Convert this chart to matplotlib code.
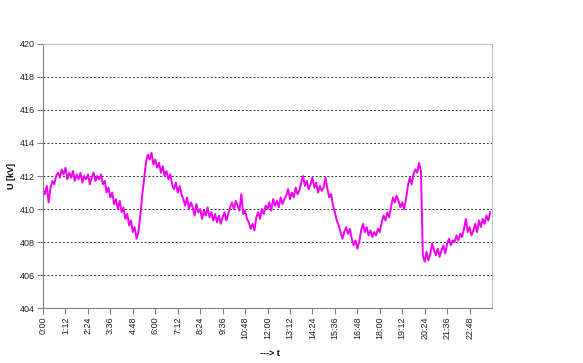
'''Voltage over one day, redrawn with matplotlib'''
import numpy as np
from matplotlib import pyplot as plt

# voltage in kV, one reading every 6 minutes, one row per hour
voltage = [
    411.2, 410.9, 411.4, 410.4, 411.3, 411.7, 411.5, 412.0, 412.2, 411.9,
    412.4, 412.1, 412.5, 411.8, 412.2, 411.9, 412.3, 411.7, 412.1, 411.8,
    412.2, 411.6, 412.0, 411.8, 412.1, 411.5, 411.9, 412.2, 411.7, 412.0,
    411.8, 412.1, 411.5, 411.7, 411.0, 411.3, 410.7, 411.0, 410.3, 410.6,
    410.0, 410.5, 409.8, 410.1, 409.4, 409.7, 409.0, 409.3, 408.6, 408.9,
    408.2, 408.6, 409.6, 410.8, 411.8, 412.8, 413.3, 413.0, 413.4, 412.7,
    413.0, 412.5, 412.8, 412.2, 412.6, 412.0, 412.3, 411.8, 412.1, 411.5,
    411.2, 411.6, 411.0, 411.4, 410.9, 410.6, 410.2, 410.7, 410.0, 410.4,
    410.1, 409.6, 410.3, 409.8, 410.0, 409.4, 409.9, 409.6, 410.1, 409.5,
    409.8, 409.3, 409.7, 409.2, 409.6, 409.1, 409.5, 409.8, 409.3, 409.7,
    410.1, 410.4, 410.0, 410.5, 410.2, 409.9, 410.9, 409.7, 409.9, 409.4,
    409.2, 408.8, 409.1, 408.7, 409.5, 409.8, 409.4, 410.0, 409.7, 410.2,
    410.0, 410.4, 409.9, 410.6, 410.2, 410.5, 410.1, 410.7, 410.3, 410.6,
    410.8, 411.2, 410.6, 411.0, 410.7, 411.3, 410.9, 411.1, 411.6, 412.0,
    411.4, 411.7, 411.2, 411.5, 411.9, 411.3, 411.6, 411.0, 411.4, 411.1,
    411.3, 411.9, 411.2, 410.7, 410.9, 410.2, 409.8, 409.3, 409.0, 408.6,
    408.2, 408.6, 408.9, 408.5, 408.8, 408.2, 407.8, 408.1, 407.6, 408.0,
    408.7, 409.1, 408.6, 408.9, 408.4, 408.7, 408.3, 408.6, 408.4, 408.8,
    408.6, 409.2, 409.6, 409.3, 409.8, 409.5, 410.1, 410.7, 410.4, 410.8,
    410.5, 410.1, 410.4, 410.0, 410.6, 411.4, 411.9, 411.5, 412.1, 412.4,
    412.2, 412.8, 412.3, 407.2, 406.8, 407.4, 406.9, 407.3, 407.9, 407.5,
    407.2, 407.6, 407.1, 407.5, 407.8, 407.3, 407.9, 408.2, 407.8, 408.1,
    408.0, 408.4, 408.1, 408.5, 408.3, 408.8, 409.4, 408.6, 408.9, 408.4,
    408.7, 409.1, 408.6, 409.3, 408.9, 409.4, 409.1, 409.6, 409.3, 409.8,
]
time_step = 6  # minutes between readings
tick_labels = ['0:00', '1:12', '2:24', '3:36', '4:48', '6:00', '7:12', '8:24',
               '9:36', '10:48', '12:00', '13:12', '14:24', '15:36', '16:48',
               '18:00', '19:12', '20:24', '21:36', '22:48']
y_ticks = [404, 406, 408, 410, 412, 414, 416, 418, 420]

plt.rcParams['font.family'] = ['Liberation Sans', 'DejaVu Sans']

minutes = np.arange(len(voltage)) * time_step

fig = plt.figure(figsize=(5.83, 3.63), dpi=100)
ax = fig.add_axes([0.0738, 0.1515, 0.7702, 0.7273])

ax.plot(minutes, voltage, color='#f000f0', linewidth=1.4)

ax.set_xlim(0, 1440)
ax.set_ylim(404, 420)
ax.set_xticks(np.arange(len(tick_labels)) * 72)
ax.set_xticklabels(tick_labels, rotation=90, fontsize=6.5, color='#222222')
ax.set_yticks(y_ticks)
ax.set_yticklabels([str(v) for v in y_ticks], fontsize=6.5, color='#222222')

for val in y_ticks[1:-1]:
    ax.axhline(val, color='#333333', linestyle=(0, (2, 2)), linewidth=0.7,
               zorder=0)

ax.spines['left'].set_color('#808080')
ax.spines['bottom'].set_color('#808080')
ax.spines['top'].set_color('#c0c0c0')
ax.spines['right'].set_color('#c0c0c0')
ax.tick_params(axis='y', length=4, width=0.8, color='#808080', pad=2)
ax.tick_params(axis='x', length=4, width=0.8, color='#808080', pad=2)

# axis titles sit at fixed spots, as in the original sheet
fig.text(11 / 583, 1 - 176 / 363, 'U [kV]', fontsize=6.5, fontweight='bold',
         rotation=90, ha='center', va='center')
fig.text(270 / 583, 1 - 353 / 363, '---> t', fontsize=6.5, fontweight='bold',
         ha='center', va='center')

fig.savefig('out.png', dpi=100)
